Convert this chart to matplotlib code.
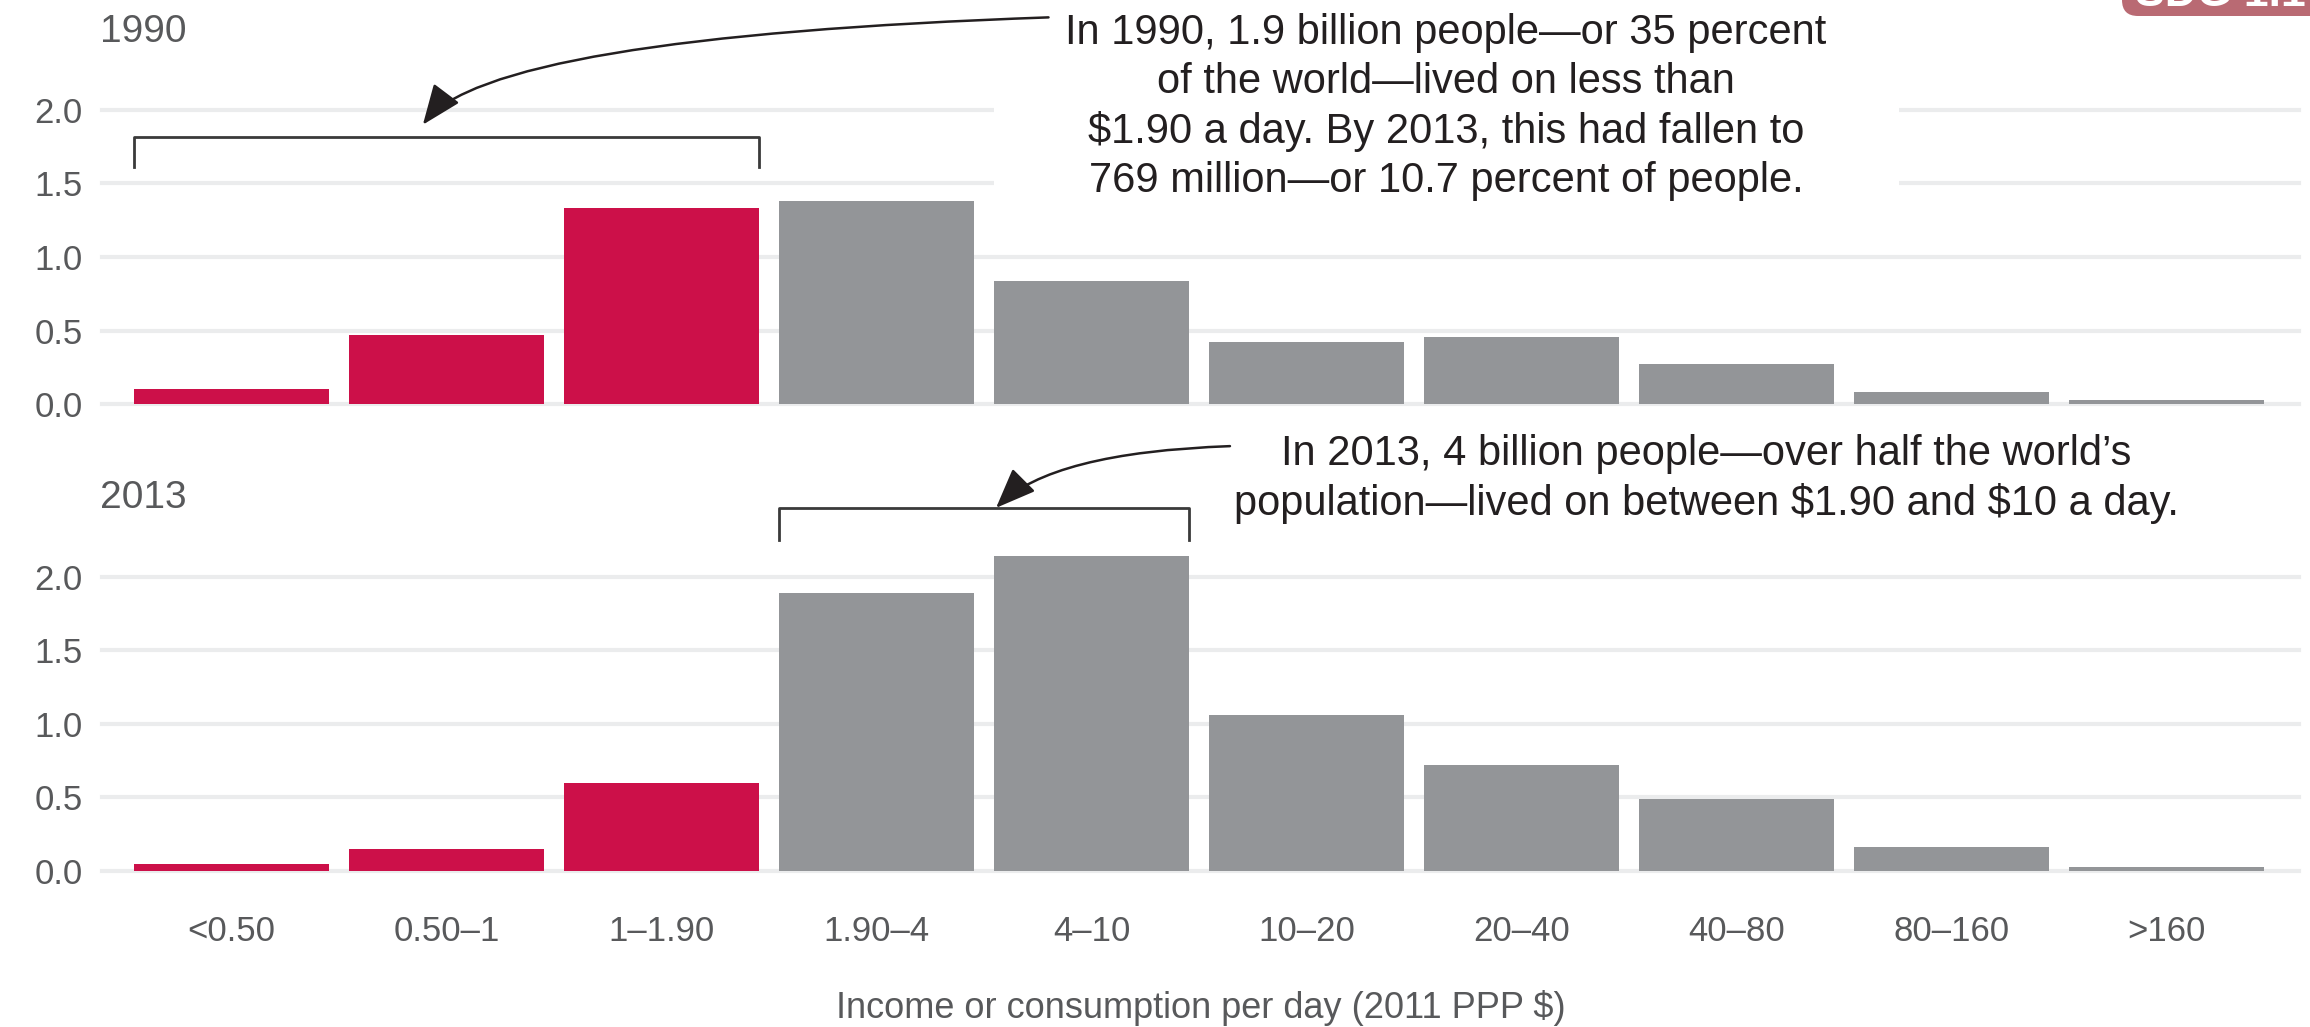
import numpy as np
import matplotlib
matplotlib.use('Agg')
import matplotlib.pyplot as plt
from matplotlib.patches import Rectangle, FancyBboxPatch
from matplotlib.transforms import IdentityTransform

plt.rcParams['font.family'] = ['Liberation Sans Narrow', 'Liberation Sans', 'DejaVu Sans']

# data: people (billions) by income bracket
categories = ['<0.50', '0.50\u20131', '1\u20131.90', '1.90\u20134', '4\u201310',
              '10\u201320', '20\u201340', '40\u201380', '80\u2013160', '>160']
pop_1990 = [0.10, 0.47, 1.33, 1.38, 0.84, 0.42, 0.455, 0.275, 0.08, 0.025]
pop_2013 = [0.05, 0.15, 0.60, 1.89, 2.14, 1.06, 0.72, 0.49, 0.165, 0.03]
n_poor = 3   # brackets below $1.90 a day
yticks = [0.0, 0.5, 1.0, 1.5, 2.0]

red = '#cc1049'
grey = '#939598'
grid_col = '#ebeced'
lab_col = '#58595b'
txt_col = '#231f20'
colors = [red if i < n_poor else grey for i in range(len(categories))]

fig = plt.figure(figsize=(23.1, 10.27), dpi=100)
ax1 = fig.add_axes([0.0442, 0.6066, 0.9510, 0.2863])
ax2 = fig.add_axes([0.0442, 0.1519, 0.9510, 0.2863])

x = np.arange(len(categories))
bw = 0.907

for ax, vals in [(ax1, pop_1990), (ax2, pop_2013)]:
    for t in yticks:
        ax.axhline(t, color=grid_col, lw=3, zorder=0, clip_on=False)
    bars = ax.bar(x, vals, width=bw, color=colors, zorder=2)
    for b in bars:
        b.set_clip_on(False)
    ax.set_xlim(-0.602, 9.616)
    ax.set_ylim(0, 2.0)
    ax.set_yticks(yticks)
    ax.set_yticklabels(['%.1f' % t for t in yticks])
    ax.tick_params(axis='y', length=0, pad=14, labelsize=25, labelcolor=lab_col)
    for s in ax.spines.values():
        s.set_visible(False)

ax1.set_xticks([])
ax2.set_xticks(x)
ax2.set_xticklabels(categories)
ax2.tick_params(axis='x', length=0, pad=32, labelsize=25, labelcolor=lab_col)
ax2.set_xlabel('Income or consumption per day (2011 PPP \\$)', fontsize=26, color=lab_col)
ax2.xaxis.set_label_coords(0.5, -0.465)
ax2.xaxis.label.set_va('center')

fig.text(100 / 2310, 0.969, '1990', fontsize=28, color=lab_col, va='center', ha='left')
fig.text(100 / 2310, 0.515, '2013', fontsize=28, color=lab_col, va='center', ha='left')

# white box behind the 1990 note (hides gridlines)
ax1.add_patch(Rectangle((994 / 2310, 1 - 220 / 1027), 905 / 2310, 220 / 1027,
                        transform=fig.transFigure, facecolor='white', edgecolor='none',
                        zorder=3, clip_on=False))

# brackets
h = bw / 2
ax1.plot([-h, -h, 2 + h, 2 + h], [1.61, 1.816, 1.816, 1.61], color='#3a3a3a', lw=2,
         clip_on=False, zorder=4)
ax2.plot([3 - h, 3 - h, 4 + h, 4 + h], [2.25, 2.47, 2.47, 2.25], color='#3a3a3a', lw=2,
         clip_on=False, zorder=4)

arrow = dict(arrowstyle='-|>,head_length=1.25,head_width=0.5', mutation_scale=20,
             color=txt_col, lw=1.8, shrinkA=0, shrinkB=0)
ax1.annotate('', xy=(0.89, 1.90), xytext=(3.80, 2.63),
             arrowprops=dict(arrow, connectionstyle='angle3,angleA=2,angleB=53'),
             annotation_clip=False, zorder=5)
ax2.annotate('', xy=(3.556, 2.47), xytext=(4.644, 2.89),
             arrowprops=dict(arrow, connectionstyle='angle3,angleA=2,angleB=45'),
             annotation_clip=False, zorder=5)

ax1.text(1446 / 2310, 0.8958,
         'In 1990, 1.9 billion people\u2014or 35 percent\nof the world\u2014lived on less than\n'
         '\\$1.90 a day. By 2013, this had fallen to\n769 million\u2014or 10.7 percent of people.',
         transform=fig.transFigure, ha='center', va='center', multialignment='center',
         fontsize=30, color=txt_col, linespacing=1.28, zorder=6, clip_on=False)
ax2.text(1706 / 2310, 0.5336,
         'In 2013, 4 billion people\u2014over half the world\u2019s\n'
         'population\u2014lived on between \\$1.90 and \\$10 a day.',
         transform=fig.transFigure, ha='center', va='center', multialignment='center',
         fontsize=30, color=txt_col, linespacing=1.28, zorder=6, clip_on=False)

# SDG badge, cut off at the top edge as in the source
fig.add_artist(FancyBboxPatch((2122, 1027 - 16), 300, 100,
                              boxstyle='round,pad=0,rounding_size=16',
                              transform=IdentityTransform(), facecolor='#b96a73',
                              edgecolor='none'))
fig.text(2135 / 2310, 1 - 6 / 1027, 'SDG 1.1', fontsize=32, fontweight='bold',
         color='white', ha='left', va='baseline')

fig.savefig('out.png', dpi=100)
